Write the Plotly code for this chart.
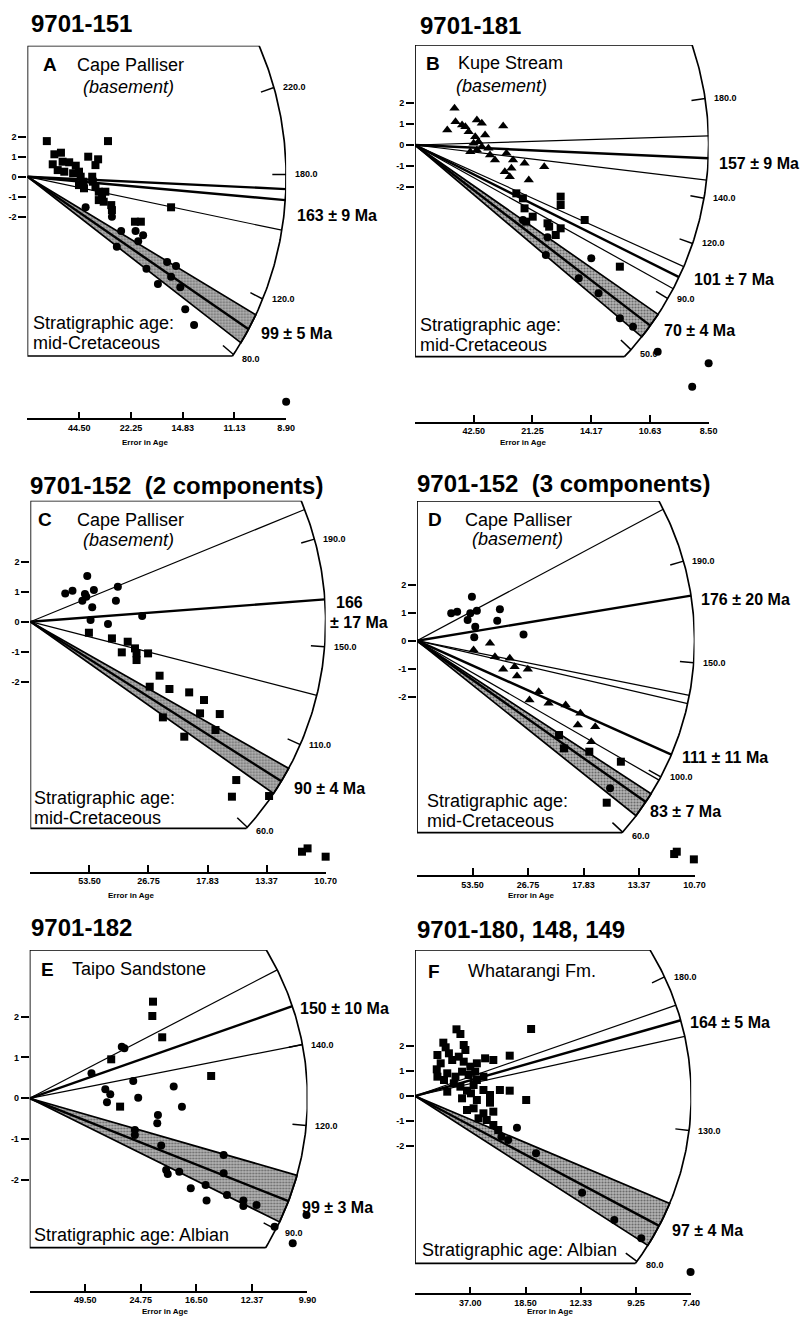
import math
import numpy as np
import plotly.graph_objects as go

W, H = 812, 1318          # browser window
PAGE_MARGIN = 8           # default <body> margin of the written page
FW, FH = W - PAGE_MARGIN, H - PAGE_MARGIN
FONT = "Liberation Sans, Arial, Helvetica, sans-serif"

# ---------------- DATA (precision units on x, standardised estimate z on y) ----------------
# Panel A
A_TITLE = "9701-151"
A_LETTER, A_PLACE, A_SUB = "A", "Cape Palliser", "(basement)"
A_STRAT = ["Stratigraphic age:", "mid-Cretaceous"]
A_XTICKS = ["44.50", "22.25", "14.83", "11.13", "8.90"]
A_ARC_LABELS = ["220.0", "180.0", "120.0", "80.0"]
A_ARC_SLOPES = [0.937, 0.023, -1.345, -2.233]
A_THICK = [-0.124, -0.235]
A_THIN = [-0.544]
A_BAND = [-1.565, -1.784, -2.013]
A_AGES = ["163 ± 9 Ma", "99 ± 5 Ma"]
A_SQUARES = [(0.375, 1.78), (1.557, 1.78), (0.521, 1.12), (0.648, 1.2), (1.175, 1.0), (1.366, 0.87),
             (0.489, 0.62), (0.68, 0.75), (0.807, 0.72), (0.934, 0.55), (0.585, 0.33), (0.712, 0.25),
             (0.883, 0.17), (0.997, 0.25), (1.252, 0.0), (1.315, 0.58), (1.029, 0.0), (1.08, -0.25),
             (0.997, -0.42), (1.093, -0.58), (1.264, -0.25), (1.315, -0.5), (1.379, -0.75),
             (1.442, -0.92), (1.506, -0.75), (1.379, -1.17), (1.474, -1.25), (1.62, -1.42),
             (1.633, -1.67), (2.776, -1.53), (2.078, -2.25), (2.192, -2.25)]
A_CIRCLES = [(1.125, -1.53), (1.633, -2.0), (1.811, -2.72), (2.09, -2.72), (2.236, -2.93),
             (2.141, -3.23), (1.728, -3.5), (2.3, -4.6), (2.7, -4.27), (2.872, -4.47), (2.522, -5.37),
             (2.776, -5.0), (2.954, -5.53), (3.05, -6.63), (3.221, -7.42), (5.0, -11.25)]
A_TRIANGLES = []

# Panel B
B_TITLE = "9701-181"
B_LETTER, B_PLACE, B_SUB = "B", "Kupe Stream", "(basement)"
B_STRAT = ["Stratigraphic age:", "mid-Cretaceous"]
B_XTICKS = ["42.50", "21.25", "14.17", "10.63", "8.50"]
B_ARC_LABELS = ["180.0", "140.0", "120.0", "90.0", "50.0"]
B_ARC_SLOPES = [0.449, -0.516, -0.992, -1.698, -2.650]
B_THICK = [-0.127, -1.400]
B_THIN = [0.086, -0.337, -1.265, -1.556]
B_BAND = [-1.948, -2.147, -2.366]
B_AGES = ["157 ± 9 Ma", "101 ± 7 Ma", "70 ± 4 Ma"]
B_TRIANGLES = [(0.672, 1.746), (0.689, 1.111), (0.549, 0.714), (0.801, 0.952), (0.857, 0.873),
               (1.053, 1.19), (1.137, 1.032), (1.193, 0.476), (0.913, 0.635), (1.025, 0.397),
               (1.501, 0.905), (0.997, 0.079), (1.081, 0.159), (0.941, -0.317), (1.053, -0.238),
               (1.277, -0.476), (1.361, -0.714), (1.557, -0.397), (1.669, -0.714), (1.865, -0.873),
               (2.2, -1.032), (1.641, -1.111), (1.529, -1.27), (1.613, -1.508), (1.937, -1.667),
               (1.249, -0.159), (1.137, -0.079)]
B_SQUARES = [(1.725, -2.302), (1.837, -2.54), (1.865, -3.016), (2.004, -3.413), (2.48, -2.46),
             (2.48, -2.857), (2.256, -3.73), (2.284, -3.889), (2.48, -3.968), (2.396, -4.286),
             (1.893, -3.651), (2.889, -3.571), (3.488, -5.794)]
B_CIRCLES = [(1.837, -3.571), (2.256, -4.397), (2.228, -5.238), (3.001, -5.397), (2.788, -6.349),
             (3.124, -7.063), (3.488, -8.254), (3.712, -8.651), (4.132, -9.841), (5.0, -10.397),
             (4.72, -11.508)]

# Panel C
C_TITLE = "9701-152  (2 components)"
C_LETTER, C_PLACE, C_SUB = "C", "Cape Palliser", "(basement)"
C_STRAT = ["Stratigraphic age:", "mid-Cretaceous"]
C_XTICKS = ["53.50", "26.75", "17.83", "13.37", "10.70"]
C_ARC_LABELS = ["190.0", "150.0", "110.0", "60.0"]
C_ARC_SLOPES = [0.572, -0.168, -0.897, -1.865]
C_THICK = [0.149]
C_THIN = [0.805, -0.506]
C_BAND = [-1.118, -1.251, -1.391]
C_AGES = ["166", "± 17 Ma", "90 ± 4 Ma"]
C_CIRCLES = [(0.59, 0.944), (0.713, 1.033), (0.963, 1.522), (0.924, 0.922), (1.075, 1.056),
             (0.88, 0.7), (0.947, 0.833), (1.481, 1.167), (1.047, 0.478), (1.448, 0.7),
             (1.019, 0.056), (1.314, -0.078), (1.893, 0.189)]
C_SQUARES = [(0.991, -0.367), (1.381, -0.556), (1.648, -0.667), (1.548, -1.022), (1.771, -0.889),
             (1.798, -1.056), (1.993, -1.056), (1.798, -1.278), (2.021, -2.167), (2.188, -1.8),
             (2.355, -2.244), (2.689, -2.356), (2.94, -2.611), (2.873, -3.056), (3.207, -3.078),
             (2.244, -3.189), (2.606, -3.833), (3.135, -3.611), (3.486, -5.278), (3.413, -5.833),
             (4.042, -5.811), (4.599, -7.667), (4.694, -7.556), (5.0, -7.833)]
C_TRIANGLES = []

# Panel D
D_TITLE = "9701-152  (3 components)"
D_LETTER, D_PLACE, D_SUB = "D", "Cape Palliser", "(basement)"
D_STRAT = ["Stratigraphic age:", "mid-Cretaceous"]
D_XTICKS = ["53.50", "26.75", "17.83", "13.37", "10.70"]
D_ARC_LABELS = ["190.0", "150.0", "100.0", "60.0"]
D_ARC_SLOPES = [0.590, -0.157, -1.103, -1.839]
D_THICK = [0.325, -0.884]
D_THIN = [1.055, -0.396, -0.459, -1.138]
D_BAND = [-1.292, -1.393, -1.579]
D_AGES = ["176 ± 20 Ma", "111 ± 11 Ma", "83 ± 7 Ma"]
D_CIRCLES = [(0.616, 0.973), (0.723, 1.032), (0.989, 1.566), (0.912, 0.735), (0.96, 0.973),
             (1.078, 1.068), (1.049, 0.498), (1.493, 1.115), (1.445, 0.712), (1.031, 0.119),
             (1.919, 0.225), (3.478, -5.255)]
D_TRIANGLES = [(1.019, -0.332), (1.315, -0.095), (1.404, -0.569), (1.671, -0.629), (1.552, -1.02),
               (1.759, -0.925), (1.801, -1.257), (1.996, -1.02), (2.192, -1.815), (2.026, -2.112),
               (2.37, -2.23), (2.678, -2.289), (2.944, -2.586), (2.897, -3.001), (3.211, -3.061),
               (3.14, -3.594)]
D_SQUARES = [(2.559, -3.357), (2.648, -3.832), (3.104, -3.95), (3.673, -4.306), (3.418, -5.765),
             (4.633, -7.592), (4.68, -7.509), (4.988, -7.782)]

# Panel E
E_TITLE = "9701-182"
E_LETTER, E_PLACE, E_SUB = "E", "Taipo Sandstone", ""
E_STRAT = ["Stratigraphic age: Albian"]
E_XTICKS = ["49.50", "24.75", "16.50", "12.37", "9.90"]
E_ARC_LABELS = ["140.0", "120.0", "90.0"]
E_ARC_SLOPES = [0.268, -0.134, -0.725]
E_THICK = [0.477]
E_THIN = [0.706, 0.268]
E_BAND = [-0.392, -0.541, -0.673]
E_AGES = ["150 ± 10 Ma", "99 ± 3 Ma"]
E_SQUARES = [(2.219, 2.367), (2.207, 2.016), (2.385, 1.494), (1.467, 0.955), (3.266, 0.547),
             (1.627, -0.204)]
E_CIRCLES = [(1.112, 0.612), (1.657, 1.265), (1.704, 1.224), (1.864, 0.424), (1.361, 0.22),
             (1.45, 0.098), (1.391, -0.098), (1.953, 0.016), (2.592, 0.286), (2.74, -0.204),
             (2.308, -0.408), (2.296, -0.612), (1.893, -0.776), (1.893, -0.898), (2.367, -1.159),
             (2.456, -1.755), (2.485, -1.853), (2.692, -1.796), (2.899, -2.204), (3.166, -2.122),
             (3.183, -2.506), (3.491, -1.388), (3.491, -1.837), (3.55, -2.367), (3.846, -2.506),
             (3.846, -2.637), (4.083, -2.612), (4.408, -3.143), (4.982, -2.857), (4.734, -3.551)]
E_TRIANGLES = []

# Panel F
F_TITLE = "9701-180, 148, 149"
F_LETTER, F_PLACE, F_SUB = "F", "Whatarangi Fm.", ""
F_STRAT = ["Stratigraphic age: Albian"]
F_XTICKS = ["37.00", "18.50", "12.33", "9.25", "7.40"]
F_ARC_LABELS = ["180.0", "130.0", "80.0"]
F_ARC_SLOPES = [1.055, -0.279, -1.647]
F_THICK = [0.630]
F_THIN = [0.769, 0.489]
F_BAND = [-0.933, -1.175, -1.418]
F_AGES = ["164 ± 5 Ma", "97 ± 4 Ma"]
F_SQUARES = [(0.75, 2.667), (0.821, 2.48), (0.512, 2.133), (0.554, 1.947), (0.405, 1.64),
             (0.393, 1.067), (0.464, 1.307), (0.613, 1.707), (0.673, 1.44), (0.881, 2.04),
             (0.911, 1.84), (0.792, 1.573), (0.881, 1.373), (1.0, 1.173), (1.119, 1.307),
             (1.268, 1.507), (1.417, 1.44), (1.714, 1.613), (2.101, 2.68), (0.583, 0.907),
             (0.732, 0.773), (0.851, 0.973), (0.97, 0.84), (1.119, 0.64), (1.238, 0.773),
             (0.702, 0.507), (0.821, 0.373), (0.94, 0.213), (1.06, 0.44), (0.583, 0.173),
             (1.357, 0.04), (1.119, -0.16), (1.357, -0.267), (1.536, 0.24), (1.714, 0.213),
             (2.012, -0.16), (0.94, -0.56), (1.06, -0.493), (1.238, -0.693), (1.417, -0.627),
             (1.149, -0.893), (1.298, -0.96), (1.417, -1.16), (1.506, -1.36), (1.012, 0.107),
             (0.851, -0.093), (1.238, 0.24), (1.089, 0.973), (0.524, 0.64), (0.405, 0.773)]
F_CIRCLES = [(1.845, -1.267), (1.565, -1.627), (1.685, -1.76), (2.19, -2.293), (3.024, -3.867),
             (3.607, -4.96), (4.095, -5.693), (4.988, -7.04)]
F_TRIANGLES = []

Y_TICKS = [2, 1, 0, -1, -2]
Y_TICK_TEXT = ["2", "1", "0", "-1", "-2"]
X_TITLE = "Error in Age"

# ---------------- LAYOUT GEOMETRY (window pixels) ----------------
GEOM = {
    "A": dict(ox=27.7, oy=176.7, ux=52.46, uy=20.0, top=45.7, bot=356.0, axis=418.3, ry=294.0,
              title=(30, 24), letter=(42, 65), place=(77, 65), sub=(83, 87), strat=(32, 323),
              ages=[(300, 215), (263, 334)], xt=(147, 442)),
    "B": dict(ox=420.7, oy=145.0, ux=59.53, uy=21.0, top=45.0, bot=356.7, axis=421.7, ry=302.0,
              title=(425, 25), letter=(431, 63), place=(463, 63), sub=(461, 86), strat=(425, 325),
              ages=[(728, 163), (703, 280), (672, 330)], xt=(530, 442)),
    "C": dict(ox=30.7, oy=621.7, ux=59.87, uy=30.0, top=500.7, bot=828.3, axis=871.7, ry=303.0,
              title=(29, 485), letter=(37, 520), place=(77, 520), sub=(83, 540), strat=(33, 798),
              ages=[(340, 603), (333, 622), (297, 788)], xt=(133, 895)),
    "D": dict(ox=422.7, oy=640.7, ux=56.27, uy=28.1, top=501.0, bot=832.7, axis=875.0, ry=285.0,
              title=(422, 483), letter=(433, 520), place=(470, 520), sub=(477, 539), strat=(432, 801),
              ages=[(710, 599), (690, 758), (658, 811)], xt=(538, 895)),
    "E": dict(ox=30.0, oy=1098.3, ux=56.33, uy=40.83, top=950.0, bot=1247.7, axis=1290.7, ry=283.0,
              title=(30, 927), letter=(40, 969), place=(72, 969), sub=(0, 0), strat=(33, 1235),
              ages=[(303, 1008), (305, 1207)], xt=(167, 1311)),
    "F": dict(ox=420.7, oy=1096.0, ux=56.0, uy=25.0, top=950.0, bot=1263.3, axis=1293.3, ry=277.7,
              title=(422, 929), letter=(433, 971), place=(473, 971), sub=(0, 0), strat=(427, 1250),
              ages=[(698, 1022), (680, 1230)], xt=(558, 1311)),
}

PANELS = [
    ("A", A_TITLE, A_LETTER, A_PLACE, A_SUB, A_STRAT, A_XTICKS, A_ARC_LABELS, A_ARC_SLOPES,
     A_THICK, A_THIN, A_BAND, A_AGES, A_SQUARES, A_CIRCLES, A_TRIANGLES),
    ("B", B_TITLE, B_LETTER, B_PLACE, B_SUB, B_STRAT, B_XTICKS, B_ARC_LABELS, B_ARC_SLOPES,
     B_THICK, B_THIN, B_BAND, B_AGES, B_SQUARES, B_CIRCLES, B_TRIANGLES),
    ("C", C_TITLE, C_LETTER, C_PLACE, C_SUB, C_STRAT, C_XTICKS, C_ARC_LABELS, C_ARC_SLOPES,
     C_THICK, C_THIN, C_BAND, C_AGES, C_SQUARES, C_CIRCLES, C_TRIANGLES),
    ("D", D_TITLE, D_LETTER, D_PLACE, D_SUB, D_STRAT, D_XTICKS, D_ARC_LABELS, D_ARC_SLOPES,
     D_THICK, D_THIN, D_BAND, D_AGES, D_SQUARES, D_CIRCLES, D_TRIANGLES),
    ("E", E_TITLE, E_LETTER, E_PLACE, E_SUB, E_STRAT, E_XTICKS, E_ARC_LABELS, E_ARC_SLOPES,
     E_THICK, E_THIN, E_BAND, E_AGES, E_SQUARES, E_CIRCLES, E_TRIANGLES),
    ("F", F_TITLE, F_LETTER, F_PLACE, F_SUB, F_STRAT, F_XTICKS, F_ARC_LABELS, F_ARC_SLOPES,
     F_THICK, F_THIN, F_BAND, F_AGES, F_SQUARES, F_CIRCLES, F_TRIANGLES),
]

RX = 5.0  # arc reaches the last precision tick

fig = go.Figure()
annotations = []


def px_x(px):
    return (px - PAGE_MARGIN) / FW


def px_y(py):
    return 1 - (py - PAGE_MARGIN) / FH


def add_text(px, py, text, size, bold=False, italic=False, anchor="left"):
    annotations.append(dict(x=px_x(px), y=px_y(py), xref="paper", yref="paper", text=text,
                            showarrow=False, xanchor=anchor, yanchor="middle", borderpad=0,
                            font=dict(family=FONT, size=size, color="black",
                                      weight="bold" if bold else "normal",
                                      style="italic" if italic else "normal")))


for i, (key, title, letter, place, sub, strat, xticks, arc_labels, arc_slopes,
        thick, thin, band, ages, squares, circles, triangles) in enumerate(PANELS, start=1):
    g = GEOM[key]
    xs = "x" if i == 1 else f"x{i}"
    ys = "y" if i == 1 else f"y{i}"
    ryz = g["ry"] / g["uy"]
    ztop = (g["oy"] - g["top"]) / g["uy"]
    zbot = (g["oy"] - g["bot"]) / g["uy"]
    ymin = (g["oy"] - g["axis"]) / g["uy"]

    def arc_end(s):
        t = 1.0 / math.sqrt(1 / RX ** 2 + s ** 2 / ryz ** 2)
        return t, s * t

    def theta_of(xv, yv):
        return math.atan2(yv / ryz, xv / RX)

    common = dict(xaxis=xs, yaxis=ys, hoverinfo="skip", cliponaxis=False)

    # shaded band
    t1 = theta_of(*arc_end(band[0]))
    t2 = theta_of(*arc_end(band[-1]))
    th = np.linspace(t1, t2, 30)
    bx = [0.0] + list(RX * np.cos(th)) + [0.0]
    by = [0.0] + list(ryz * np.sin(th)) + [0.0]
    fig.add_trace(go.Scatter(x=bx, y=by, mode="lines", fill="toself", fillcolor="#a8a8a8",
                             fillpattern=dict(shape=".", fgcolor="#1e1e1e", bgcolor="#b4b4b4",
                                              size=3, solidity=0.4),
                             line=dict(color="black", width=1.7), **common))

    # box with arc
    tt = math.asin(max(-1, min(1, ztop / ryz)))
    tb = math.asin(max(-1, min(1, zbot / ryz)))
    th = np.linspace(tt, tb, 120)
    ax_ = list(RX * np.cos(th))
    ay_ = list(ryz * np.sin(th))
    fig.add_trace(go.Scatter(x=[ax_[-1], 0, 0] + ax_, y=[zbot, zbot, ztop] + ay_, mode="lines",
                             line=dict(color="black", width=1.7), **common))

    # age lines
    for s in thin:
        ex, ey = arc_end(s)
        fig.add_trace(go.Scatter(x=[0, ex], y=[0, ey], mode="lines",
                                 line=dict(color="black", width=1.2), **common))
    for s in list(thick) + [band[1]]:
        ex, ey = arc_end(s)
        fig.add_trace(go.Scatter(x=[0, ex], y=[0, ey], mode="lines",
                                 line=dict(color="black", width=2.4), **common))

    # arc ticks
    tx, ty = [], []
    for s in arc_slopes:
        ex, ey = arc_end(s)
        plen = math.hypot(ex * g["ux"], ey * g["uy"])
        f = 1 - 14.0 / plen
        tx += [ex, ex * f, None]
        ty += [ey, ey * f, None]
    fig.add_trace(go.Scatter(x=tx, y=ty, mode="lines", line=dict(color="black", width=1.5), **common))
    for j, (lab, s) in enumerate(zip(arc_labels, arc_slopes)):
        ex, ey = arc_end(s)
        annotations.append(dict(x=ex, y=ey, xref=xs, yref=ys, text=lab, showarrow=False,
                                xanchor="left", yanchor="middle", xshift=7,
                                yshift=-4 if j == len(arc_labels) - 1 else 0,
                                font=dict(family=FONT, size=9, color="black", weight="bold")))

    # points
    mk = dict(color="black", line=dict(width=0))
    if squares:
        fig.add_trace(go.Scatter(x=[p[0] for p in squares], y=[p[1] for p in squares], mode="markers",
                                 marker=dict(symbol="square", size=8, **mk), **common))
    if circles:
        fig.add_trace(go.Scatter(x=[p[0] for p in circles], y=[p[1] for p in circles], mode="markers",
                                 marker=dict(symbol="circle", size=8, **mk), **common))
    if triangles:
        fig.add_trace(go.Scatter(x=[p[0] for p in triangles], y=[p[1] for p in triangles], mode="markers",
                                 marker=dict(symbol="triangle-up", size=9, **mk), **common))

    # axes
    xd = [px_x(g["ox"]), px_x(g["ox"] + RX * g["ux"])]
    yd = [px_y(g["axis"]), px_y(g["top"])]
    xname = "xaxis" if i == 1 else f"xaxis{i}"
    yname = "yaxis" if i == 1 else f"yaxis{i}"
    fig.update_layout(**{
        xname: dict(domain=xd, range=[0, RX], anchor=ys, showline=True, linecolor="black", linewidth=1.6,
                    ticks="inside", ticklen=7, tickwidth=1.6, tickcolor="black",
                    tickvals=[0, 1, 2, 3, 4, 5], ticktext=[""] + list(xticks),
                    tickfont=dict(family=FONT, size=9, color="black", weight="bold"),
                    showgrid=False, zeroline=False, fixedrange=True),
        yname: dict(domain=yd, range=[ymin, ztop], anchor=xs, showline=False,
                    ticks="outside", ticklen=8, tickwidth=1.6, tickcolor="black",
                    tickvals=Y_TICKS, ticktext=Y_TICK_TEXT,
                    tickfont=dict(family=FONT, size=9, color="black", weight="bold"),
                    showgrid=False, zeroline=False, fixedrange=True),
    })

    # texts
    add_text(*g["title"], title, 24, bold=True)
    add_text(*g["letter"], letter, 19, bold=True)
    add_text(*g["place"], place, 18)
    if sub:
        add_text(*g["sub"], sub, 18, italic=True)
    for k, line in enumerate(strat):
        add_text(g["strat"][0], g["strat"][1] + 20 * k, line, 18)
    for (px, py), lab in zip(g["ages"], ages):
        add_text(px, py, lab, 16, bold=True)
    add_text(*g["xt"], X_TITLE, 8, bold=True, anchor="center")

fig.update_layout(width=FW, height=FH, margin=dict(l=0, r=0, t=0, b=0), showlegend=False,
                  paper_bgcolor="white", plot_bgcolor="white", annotations=annotations,
                  font=dict(family=FONT))

fig.write_html("out.html")
